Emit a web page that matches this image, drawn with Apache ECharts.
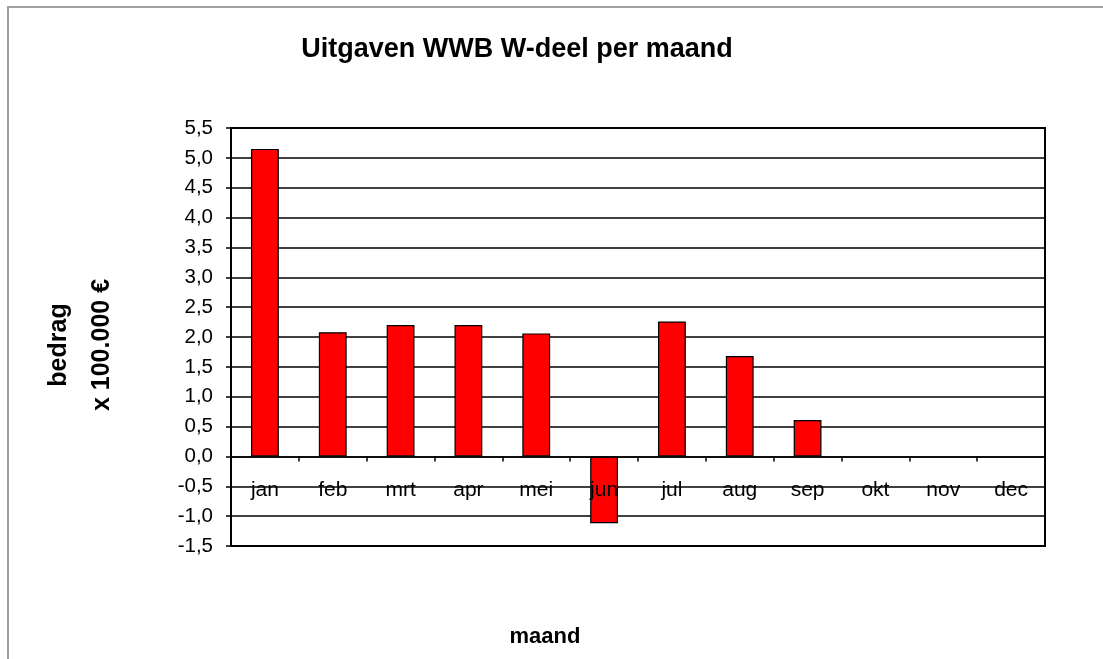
<!DOCTYPE html>
<html>
<head>
<meta charset="utf-8">
<title>Uitgaven WWB W-deel per maand</title>
<script src="https://cdn.jsdelivr.net/npm/echarts@6/dist/echarts.min.js"></script>
<style>
  html, body { margin: 0; padding: 0; background: #fff; }
  #chart { width: 1103px; height: 659px; }
</style>
</head>
<body>
<div id="chart"></div>
<script>
// maanden op de x-as
const maanden = ["jan", "feb", "mrt", "apr", "mei", "jun", "jul", "aug", "sep", "okt", "nov", "dec"];
// uitgaven per maand (x 100.000 euro), okt t/m dec nog leeg
const uitgaven = [5.15, 2.08, 2.20, 2.20, 2.06, -1.12, 2.26, 1.68, 0.61, null, null, null];
// bereik y-as
const yMin = -1.5;
const yMax = 5.5;
const yStap = 0.5;

const font = "Arial, 'Liberation Sans', sans-serif";
const chart = echarts.init(document.getElementById("chart"));

const option = {
  animation: false,
  backgroundColor: "#fff",
  textStyle: { fontFamily: font, color: "#000" },
  title: {
    text: "Uitgaven WWB W-deel per maand",
    left: 512,
    top: 31,
    textAlign: "center",
    textStyle: { fontFamily: font, fontSize: 27, fontWeight: "bold", color: "#000" }
  },
  // grijze rand om de grafiek
  graphic: [
    {
      type: "rect",
      shape: { x: 8, y: 7, width: 1200, height: 800 },
      style: { fill: "none", stroke: "#a0a0a0", lineWidth: 2 },
      silent: true
    }
  ],
  grid: {
    left: 231,
    top: 128,
    right: 58,
    bottom: 113,
    outerBoundsMode: "none",
    containLabel: false,
    show: true,
    borderColor: "#000",
    borderWidth: 2
  },
  xAxis: {
    type: "category",
    data: maanden,
    z: 3,
    axisLine: { onZero: true, lineStyle: { color: "#000", width: 1.5 } },
    axisTick: { show: true, length: 5, lineStyle: { color: "#000", width: 1.5 } },
    // labels staan net onder de nullijn
    axisLabel: { color: "#000", fontSize: 21, margin: -66, fontFamily: font },
    splitLine: { show: false },
    name: "maand",
    nameLocation: "middle",
    nameGap: 80,
    nameTextStyle: {
      fontFamily: font,
      fontSize: 22,
      fontWeight: "bold",
      color: "#000",
      padding: [0, 186, 0, 0]
    }
  },
  yAxis: {
    type: "value",
    min: yMin,
    max: yMax,
    interval: yStap,
    axisLine: { show: true, lineStyle: { color: "#000", width: 2 } },
    axisTick: { show: true, length: 5, lineStyle: { color: "#000", width: 1.5 } },
    axisLabel: {
      color: "#000",
      fontSize: 20.5,
      margin: 18,
      fontFamily: font,
      formatter: function (v) {
        return v.toFixed(1).replace(".", ",");
      }
    },
    splitLine: { show: true, lineStyle: { color: "#000", width: 1.5 } },
    name: "bedrag\nx 100.000 €",
    nameLocation: "middle",
    nameRotate: 90,
    nameGap: 107,
    nameTextStyle: {
      fontFamily: font,
      fontSize: 25,
      fontWeight: "bold",
      lineHeight: 43,
      color: "#000",
      padding: [0, 16, 0, 0]
    }
  },
  series: [
    {
      type: "bar",
      data: uitgaven,
      barWidth: "41%",
      itemStyle: { color: "#ff0000", borderColor: "#000", borderWidth: 1.2 }
    }
  ]
};

chart.setOption(option);
</script>
</body>
</html>
